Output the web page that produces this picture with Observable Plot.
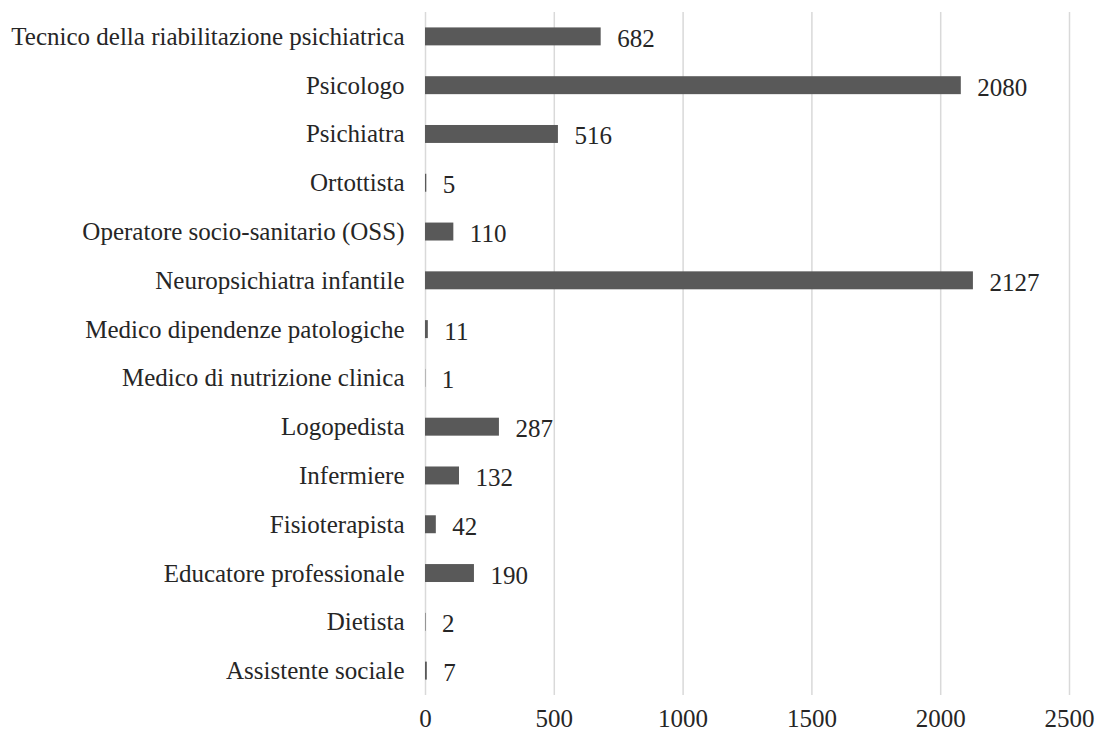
<!DOCTYPE html>
<html>
<head>
<meta charset="utf-8">
<script src="https://cdn.jsdelivr.net/npm/d3@7"></script>
<script src="https://cdn.jsdelivr.net/npm/@observablehq/plot@0.6"></script>
<style>
  html, body { margin: 0; padding: 0; background: #fff; }
  #chart svg { display: block; }
</style>
</head>
<body>
<div id="chart"></div>
<script>
// Professional roles, listed top to bottom
const roles = [
  "Tecnico della riabilitazione psichiatrica",
  "Psicologo",
  "Psichiatra",
  "Ortottista",
  "Operatore socio-sanitario (OSS)",
  "Neuropsichiatra infantile",
  "Medico dipendenze patologiche",
  "Medico di nutrizione clinica",
  "Logopedista",
  "Infermiere",
  "Fisioterapista",
  "Educatore professionale",
  "Dietista",
  "Assistente sociale"
];

// Headcount per role
const counts = [682, 2080, 516, 5, 110, 2127, 11, 1, 287, 132, 42, 190, 2, 7];

// Value axis ticks
const xTicks = [0, 500, 1000, 1500, 2000, 2500];

const rows = roles.map((role, i) => ({role, count: counts[i]}));

const font = "'Liberation Serif', 'DejaVu Serif', serif";

const chart = Plot.plot({
  width: 1097,
  height: 735,
  marginLeft: 425,
  marginRight: 28,
  marginTop: 12,
  marginBottom: 40,
  style: {fontFamily: font, fontSize: "25px", color: "#262626", background: "#fff"},
  x: {domain: [0, 2500], ticks: xTicks},
  y: {domain: roles, paddingInner: 0.632, paddingOuter: 0.316, round: false},
  marks: [
    Plot.gridX(xTicks, {stroke: "#d9d9d9", strokeOpacity: 1, strokeWidth: 1.5}),
    Plot.barX(rows, {x: "count", y: "role", fill: "#595959"}),
    Plot.text(rows, {
      x: "count", y: "role", text: d => String(d.count),
      textAnchor: "start", dx: 16, dy: 2, fill: "#262626", fontSize: 25
    }),
    Plot.axisY({tickSize: 0, tickPadding: 21, label: null, fontSize: 25}),
    Plot.axisX(xTicks, {tickSize: 0, tickPadding: 14, label: null, fontSize: 25, tickFormat: d => String(d)})
  ]
});

document.getElementById("chart").appendChild(chart);
</script>
</body>
</html>
